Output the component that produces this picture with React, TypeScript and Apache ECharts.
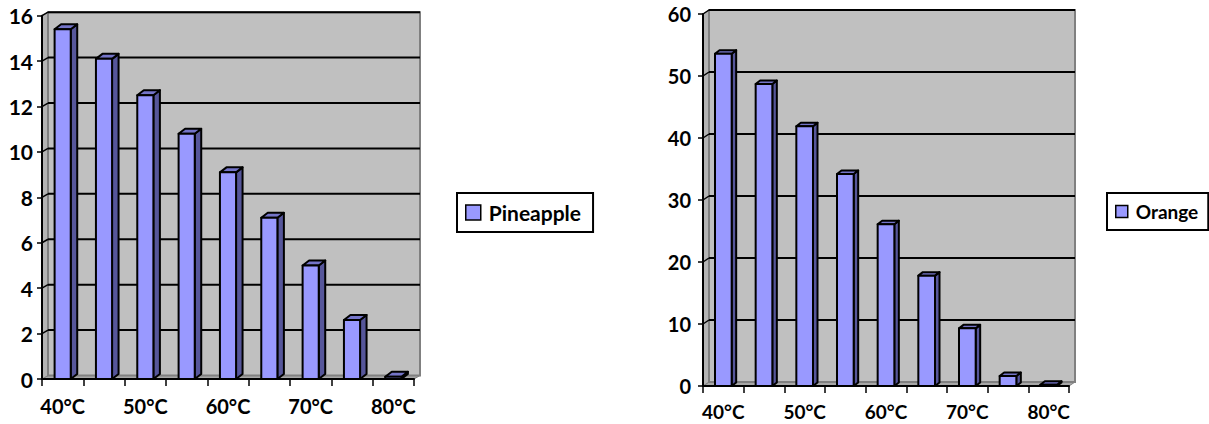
import React, { useEffect, useRef } from "react";
import * as echarts from "echarts";

const categories = ["40°C", "45°C", "50°C", "55°C", "60°C", "65°C", "70°C", "75°C", "80°C"];
const pineappleValues = [15.4, 14.1, 12.5, 10.8, 9.1, 7.1, 5.0, 2.6, 0.1];
const orangeValues = [53.6, 48.7, 41.9, 34.2, 26.1, 17.8, 9.3, 1.6, 0.2];
const leftTicks = [0, 2, 4, 6, 8, 10, 12, 14, 16];
const rightTicks = [0, 10, 20, 30, 40, 50, 60];

const FRONT = "#9999FF";
const SIDE = "#56569A";
const TOP = "#7474C8";
const WALL = "#C0C0C0";
const WALL_EDGE = "#808080";
const FONT = "Lato";

function wallRenderer(ticks: number[], dx: number, dy: number) {
  return (params: any, api: any) => {
    const cs = params.coordSys;
    const x0 = cs.x, x1 = cs.x + cs.width, yT = cs.y, yB = cs.y + cs.height;
    const children: any[] = [
      { type: "polygon", shape: { points: [[x0, yB], [x1, yB], [x1 + dx, yB + dy], [x0 + dx, yB + dy]] }, style: { fill: "#A8A8A8", stroke: WALL_EDGE, lineWidth: 1 } },
      { type: "polygon", shape: { points: [[x0, yT], [x0 + dx, yT + dy], [x0 + dx, yB + dy], [x0, yB]] }, style: { fill: "#B4B4B4", stroke: WALL_EDGE, lineWidth: 1 } },
      { type: "rect", shape: { x: x0 + dx, y: yT + dy, width: x1 - x0, height: yB - yT }, style: { fill: WALL, stroke: WALL_EDGE, lineWidth: 2 } },
    ];
    ticks.forEach((t) => {
      if (t === 0) return;
      const y = api.coord([0, t])[1];
      children.push({ type: "line", shape: { x1: x0 + dx, y1: y + dy, x2: x1 + dx, y2: y + dy }, style: { stroke: "#000", lineWidth: 2 } });
      children.push({ type: "line", shape: { x1: x0, y1: y, x2: x0 + dx, y2: y + dy }, style: { stroke: "#000", lineWidth: 1.5 } });
    });
    return { type: "group", children };
  };
}

function barRenderer(dx: number, dy: number, frac: number) {
  return (params: any, api: any) => {
    const idx = api.value(0);
    const v = api.value(1);
    const top = api.coord([idx, v]);
    const base = api.coord([idx, 0]);
    const bw = api.size([1, 0])[0] * frac;
    const x0 = top[0] - bw / 2;
    const x1 = top[0] + bw / 2;
    const yt = top[1];
    const yb = base[1];
    const st = { stroke: "#000", lineWidth: 2, lineJoin: "round" };
    return {
      type: "group",
      children: [
        { type: "polygon", shape: { points: [[x1, yt], [x1 + dx, yt + dy], [x1 + dx, yb + dy], [x1, yb]] }, style: { fill: SIDE, ...st } },
        { type: "polygon", shape: { points: [[x0, yt], [x0 + dx, yt + dy], [x1 + dx, yt + dy], [x1, yt]] }, style: { fill: TOP, ...st } },
        { type: "rect", shape: { x: x0, y: yt, width: bw, height: yb - yt }, style: { fill: FRONT, ...st } },
      ],
    };
  };
}

export default function App() {
  const ref = useRef<HTMLDivElement>(null);
  useEffect(() => {
    if (!ref.current) return;
    const chart = echarts.init(ref.current, undefined, { renderer: "svg" });
    const xAxisBase = (gridIndex: number, fontSize: number, margin: number) => ({
      type: "category",
      gridIndex,
      data: categories,
      z: 10,
      axisLine: { show: true, lineStyle: { color: "#000", width: 2 } },
      axisTick: { show: true, interval: 0, length: 7, lineStyle: { color: "#000", width: 1.5 } },
      axisLabel: { interval: 1, color: "#000", fontFamily: FONT, fontWeight: "bold", fontSize, margin },
      splitLine: { show: false },
    });
    const yAxisBase = (gridIndex: number, max: number, interval: number, fontSize: number, margin: number) => ({
      type: "value",
      gridIndex,
      min: 0,
      max,
      interval,
      z: 10,
      axisLine: { show: true, lineStyle: { color: "#000", width: 2 } },
      axisTick: { show: true, length: 5, lineStyle: { color: "#000", width: 1.5 } },
      axisLabel: { color: "#000", fontFamily: FONT, fontWeight: "bold", fontSize, margin },
      splitLine: { show: false },
    });
    chart.setOption({
      animation: false,
      backgroundColor: "#fff",
      grid: [
        { left: 42, top: 15.7, width: 372, height: 363.3 },
        { left: 703, top: 14, width: 366, height: 372 },
      ],
      xAxis: [xAxisBase(0, 20, 17), xAxisBase(1, 19, 16)],
      yAxis: [yAxisBase(0, 16, 2, 21, 9), yAxisBase(1, 60, 10, 20, 12)],
      legend: [
        {
          data: ["Pineapple"],
          left: 457,
          top: 193,
          orient: "vertical",
          padding: [9, 12, 9, 8],
          borderColor: "#000",
          borderWidth: 2,
          icon: "rect",
          itemWidth: 15,
          itemHeight: 15,
          itemStyle: { borderColor: "#000", borderWidth: 1.5 },
          textStyle: { color: "#000", fontFamily: FONT, fontWeight: "bold", fontSize: 21, padding: [0, 0, 0, 3] },
        },
        {
          data: ["Orange"],
          left: 1107,
          top: 193,
          orient: "vertical",
          padding: [9, 10, 9, 8],
          borderColor: "#000",
          borderWidth: 2,
          icon: "rect",
          itemWidth: 12,
          itemHeight: 12,
          itemStyle: { borderColor: "#000", borderWidth: 1.5 },
          textStyle: { color: "#000", fontFamily: FONT, fontWeight: "bold", fontSize: 19, padding: [0, 0, 0, 3] },
        },
      ],
      series: [
        {
          type: "custom",
          name: "wallL",
          xAxisIndex: 0,
          yAxisIndex: 0,
          z: 1,
          silent: true,
          data: [[0, 0]],
          renderItem: wallRenderer(leftTicks, 6, -3.5),
        },
        {
          type: "custom",
          name: "wallR",
          xAxisIndex: 1,
          yAxisIndex: 1,
          z: 1,
          silent: true,
          data: [[0, 0]],
          renderItem: wallRenderer(rightTicks, 6, -4),
        },
        {
          type: "custom",
          name: "Pineapple",
          xAxisIndex: 0,
          yAxisIndex: 0,
          z: 3,
          itemStyle: { color: FRONT },
          data: pineappleValues.map((v, i) => [i, v]),
          renderItem: barRenderer(6.5, -5, 0.39),
        },
        {
          type: "custom",
          name: "Orange",
          xAxisIndex: 1,
          yAxisIndex: 1,
          z: 3,
          itemStyle: { color: FRONT },
          data: orangeValues.map((v, i) => [i, v]),
          renderItem: barRenderer(4.5, -3.5, 0.41),
        },
      ],
    });
    return () => chart.dispose();
  }, []);
  return <div ref={ref} style={{ position: "fixed", left: 0, top: 0, width: 1209, height: 424 }} />;
}
